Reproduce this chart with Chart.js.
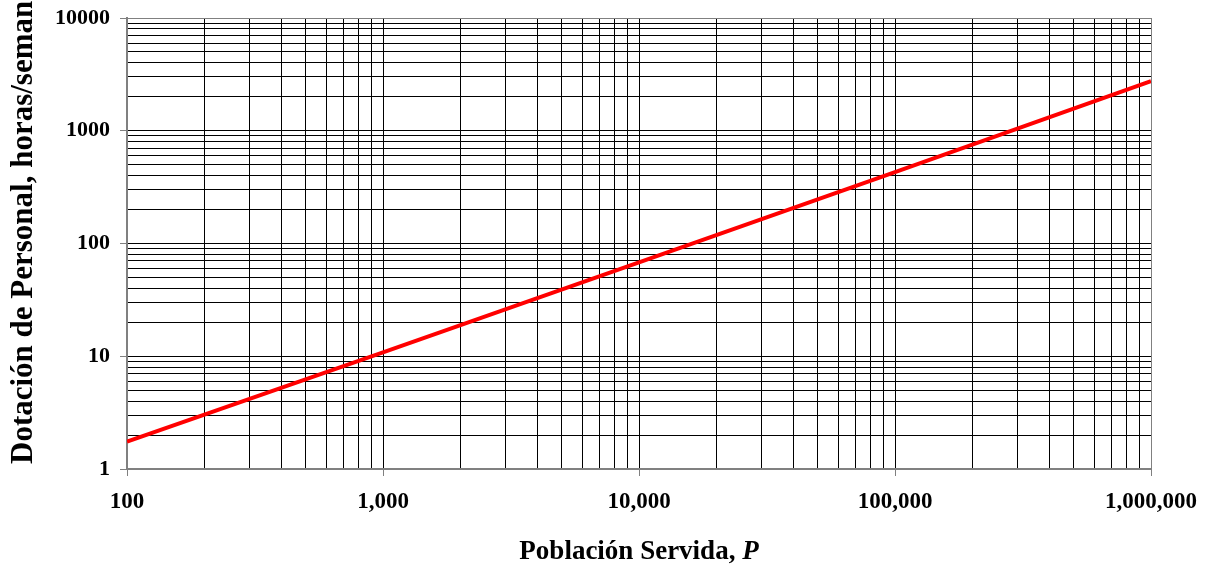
<!DOCTYPE html>
<html>
<head>
<meta charset="utf-8">
<script src="https://cdn.jsdelivr.net/npm/chart.js@4"></script>
<style>
  body { margin: 0; background: #fff; }
  #wrap { width: 1211px; height: 569px; position: relative; }
</style>
</head>
<body>
<div id="wrap"><canvas id="staffChart"></canvas></div>
<script>
// data (log-log)
const poblacion = [100, 1000, 10000, 100000, 1000000];
const dotacion = [1.75, 10.8, 68, 430, 2750];

// decades and the in-between steps used for the grid
const xDecades = [100, 1000, 10000, 100000, 1000000];
const yDecades = [1, 10, 100, 1000, 10000];
const minorSteps = [2, 3, 4, 5, 6, 7, 8, 9];
const xTickLabels = ["100", "1,000", "10,000", "100,000", "1,000,000"];
const yTickLabels = ["1", "10", "100", "1000", "10000"];

const xTitle = "Población Servida, ";
const xTitleVar = "P";
const yTitle = "Dotación de Personal, horas/semana";

const FONT = '"Liberation Serif", "Times New Roman", serif';

function logTicks(decades) {
  const out = [];
  decades.forEach((d, i) => {
    out.push({ value: d, major: true });
    if (i < decades.length - 1) {
      minorSteps.forEach(s => out.push({ value: d * s, major: false }));
    }
  });
  return out;
}

function gridColor(ctx) {
  const last = ctx.scale.ticks.length - 1;
  return (ctx.index === 0 || ctx.index === last) ? "#808080" : "#000000";
}
function tickColor(ctx) {
  return ctx.tick && ctx.tick.major ? "#808080" : "rgba(0,0,0,0)";
}

// axis titles drawn by hand so the italic P and the overflowing y title look right
const axisTitles = {
  id: "axisTitles",
  afterDraw(chart) {
    const ctx = chart.ctx;
    ctx.save();
    ctx.fillStyle = "#000";
    ctx.textBaseline = "alphabetic";
    ctx.textAlign = "left";

    ctx.font = "bold 27px " + FONT;
    const w1 = ctx.measureText(xTitle).width;
    ctx.font = "italic bold 27px " + FONT;
    const w2 = ctx.measureText(xTitleVar).width;
    const area = chart.chartArea;
    let x = (area.left + area.right) / 2 - (w1 + w2) / 2;
    ctx.font = "bold 27px " + FONT;
    ctx.fillText(xTitle, x, 559);
    ctx.font = "italic bold 27px " + FONT;
    ctx.fillText(xTitleVar, x + w1, 559);

    ctx.translate(32, 464);
    ctx.rotate(-Math.PI / 2);
    ctx.font = "bold 31px " + FONT;
    ctx.fillText(yTitle, 0, 0);
    ctx.restore();
  }
};

new Chart(document.getElementById("staffChart"), {
  type: "line",
  data: {
    datasets: [{
      data: poblacion.map((p, i) => ({ x: p, y: dotacion[i] })),
      borderColor: "#ff0000",
      borderWidth: 4,
      pointRadius: 0,
      tension: 0,
      fill: false
    }]
  },
  options: {
    responsive: true,
    maintainAspectRatio: false,
    animation: false,
    layout: { padding: { top: 18, right: 60, left: 0, bottom: 0 } },
    plugins: { legend: { display: false }, tooltip: { enabled: false } },
    scales: {
      x: {
        type: "logarithmic",
        min: 100,
        max: 1000000,
        afterBuildTicks: s => { s.ticks = logTicks(xDecades); },
        afterFit: s => { s.height = 100; s.paddingLeft = 0; s.paddingRight = 0; },
        grid: { color: gridColor, lineWidth: 1, tickLength: 7, tickColor: tickColor },
        border: { color: "#808080", width: 2 },
        ticks: {
          autoSkip: false,
          maxRotation: 0,
          padding: 12,
          color: "#000",
          font: { family: FONT, size: 23, weight: "bold" },
          callback: v => {
            const i = xDecades.indexOf(v);
            return i >= 0 ? xTickLabels[i] : "";
          }
        }
      },
      y: {
        type: "logarithmic",
        min: 1,
        max: 10000,
        afterBuildTicks: s => { s.ticks = logTicks(yDecades); },
        afterFit: s => { s.width = 127; s.paddingTop = 0; s.paddingBottom = 0; },
        grid: { color: gridColor, lineWidth: 1, tickLength: 7, tickColor: tickColor },
        border: { color: "#808080", width: 2 },
        ticks: {
          autoSkip: false,
          padding: 10,
          color: "#000",
          font: { family: FONT, size: 22, weight: "bold" },
          callback: v => {
            const i = yDecades.indexOf(v);
            return i >= 0 ? yTickLabels[i] : "";
          }
        }
      }
    }
  },
  plugins: [axisTitles]
});
</script>
</body>
</html>
